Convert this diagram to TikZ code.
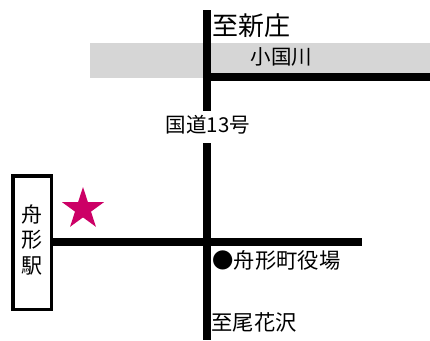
\documentclass[tikz,border=0pt]{standalone}
\usepackage{fontspec}
\setmainfont{Noto Sans CJK JP}
\usetikzlibrary{shapes.geometric}
\definecolor{riverc}{HTML}{D6D6D6}
\definecolor{starc}{HTML}{CC0066}
\tikzset{
  road/.style={line width=8pt,draw=black,line cap=butt},
  lab/.style={inner sep=0pt,outer sep=0pt,text=black,anchor=center},
  big/.style={lab,font=\fontsize{26}{26}\selectfont},
  mid/.style={lab,font=\fontsize{21.3}{21.3}\selectfont},
  small/.style={lab,font=\fontsize{20.5}{20.5}\selectfont},
}
\begin{document}
\begin{tikzpicture}[x=1pt,y=-1pt]
\useasboundingbox (0,0) rectangle (430,340);
\fill[white] (0,0) rectangle (430,340);
\fill[riverc] (90,43) rectangle (430,78);
\coordinate (ntop) at (207,10);
\coordinate (nbreak) at (207,110.5);
\coordinate (sbreak) at (207,143);
\coordinate (sbot) at (207,340);
\coordinate (junc) at (207,76.5);
\coordinate (reast) at (430,76.5);
\coordinate (least) at (362,242);
\draw[road] (ntop) -- (nbreak);
\draw[road] (sbreak) -- (sbot);
\draw[road] (junc) -- (reast);
\node[draw=black,line width=3.5pt,fill=white,minimum width=38.5pt,minimum height=133.5pt,inner sep=0pt] (station) at (32,242.5) {};
\draw[road] (station.east |- least) -- (least);
\node[lab,font=\fontsize{21}{24.5}\selectfont,align=center] (stname) at (32,240) {舟\\[1pt]形\\[1pt]駅};
\node[star,star points=5,star point ratio=2.618,fill=starc,inner sep=0pt,minimum size=44pt] (mark) at (83,209) {};
\node[big] (l1) at (251,26) {至新庄};
\node[small] (l2) at (281.5,57) {小国川};
\node[small] (l3) at (208,125) {国道13号};
\node[mid] (l4) at (276.5,260.5) {●舟形町役場};
\node[mid] (l5) at (254,322.5) {至尾花沢};
\end{tikzpicture}
\end{document}
